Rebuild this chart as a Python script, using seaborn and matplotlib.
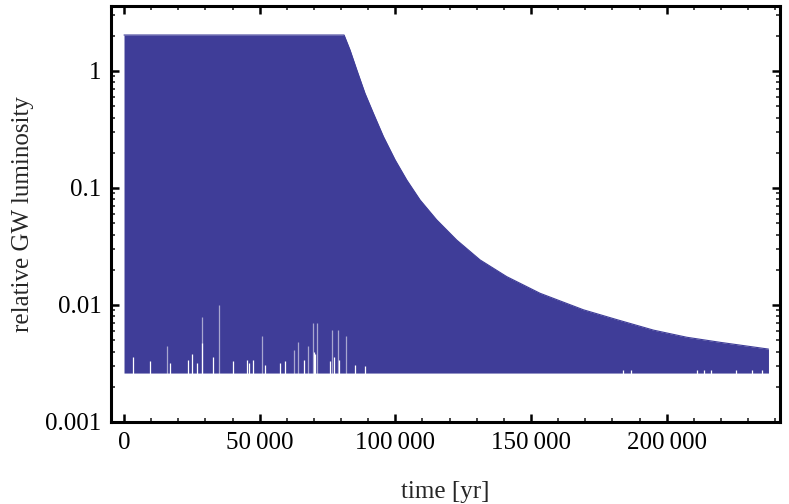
import numpy as np
import pandas as pd
import matplotlib
matplotlib.use("Agg")
import matplotlib.pyplot as plt
import matplotlib.ticker as mticker
import seaborn as sns

# envelope of the rapidly oscillating GW luminosity
env_time = [0, 81100, 83300, 85800, 88800, 91900, 95600, 99900, 104200, 109100,
            115200, 122600, 131200, 141000, 153300, 169300, 181600, 195100,
            207400, 219600, 237500]
env_upper = [2.03, 2.03, 1.51, 1.02, 0.645, 0.435, 0.275, 0.174, 0.117, 0.079,
             0.0535, 0.0359, 0.0243, 0.0175, 0.0126, 0.0091, 0.0075, 0.0061,
             0.0053, 0.0048, 0.0042]
env_lower = [0.00262] * len(env_time)

# gaps in the lower envelope (minima that stay higher)
faint_time = [35130, 28630, 69770, 71010, 76780, 79000, 50970, 64240, 67920,
              15730, 81800, 62650]
faint_top = [0.0100, 0.0079, 0.0070, 0.0070, 0.0061, 0.0061, 0.0054, 0.0048,
             0.0045, 0.0045, 0.0054, 0.0041]
bright_time = [28630, 3200, 24950, 32900, 45200, 47400, 9580, 16950, 23700,
               26800, 40280, 57490, 59330, 66340, 75920, 79350, 85130, 88800,
               69900, 70500, 77300, 46000, 52000, 184000, 186900, 211000,
               213600, 216200, 225400, 231300, 235000]
bright_top = [0.0047, 0.0036, 0.0038, 0.0036, 0.0034, 0.0034, 0.0033, 0.0032,
              0.0034, 0.0032, 0.0033, 0.0032, 0.0033, 0.0034, 0.0033, 0.0034,
              0.0031, 0.0030, 0.0040, 0.0038, 0.0036, 0.0032, 0.0031, 0.0028,
              0.0028, 0.0028, 0.0028, 0.0028, 0.0028, 0.0028, 0.0028]

xticks = [0, 50000, 100000, 150000, 200000]
yticks = [0.001, 0.01, 0.1, 1]
ytick_labels = ["0.001", "0.01", "0.1", "1"]

sns.set_theme(style="ticks")
plt.rcParams["font.family"] = ["Liberation Serif", "DejaVu Serif"]

fig = plt.figure(figsize=(7.89, 5.04), dpi=100)
ax = fig.add_axes([0.1407, 0.1627, 0.9886 - 0.1407, 0.988 - 0.1627])

fill_col = "#3f3d98"
df = pd.DataFrame({"time": env_time, "upper": env_upper, "lower": env_lower})
ax.fill_between(df["time"], df["lower"], df["upper"], color=fill_col, lw=0)
sns.lineplot(data=df, x="time", y="upper", ax=ax, color=fill_col, lw=0.8)

ax.vlines(faint_time, env_lower[0] * 0.97, faint_top, color="white", lw=0.9, alpha=0.55)
ax.vlines(bright_time, env_lower[0] * 0.97, bright_top, color="white", lw=0.9)

ax.set_yscale("log")
ax.set_xlim(-4790, 241750)
ax.set_ylim(0.001, 3.59)

ax.set_xticks(xticks)
ax.xaxis.set_major_formatter(mticker.FuncFormatter(
    lambda v, p: f"{int(v):,}".replace(",", "\u2009")))
ax.xaxis.set_minor_locator(mticker.MultipleLocator(10000))
ax.set_yticks(yticks)
ax.set_yticklabels(ytick_labels)
ax.yaxis.set_minor_locator(mticker.LogLocator(base=10, subs=np.arange(2, 10)))
ax.yaxis.set_minor_formatter(mticker.NullFormatter())

for s in ax.spines.values():
    s.set_visible(True)
    s.set_linewidth(2.2)
    s.set_color("black")

ax.tick_params(which="major", direction="in", length=6, width=1.8,
               top=True, right=True, labelsize=18, pad=7, colors="black")
ax.tick_params(which="minor", direction="in", length=3, width=1.2,
               top=True, right=True)

ax.set_xlabel("time [yr]", fontsize=18, labelpad=20)
ax.set_ylabel("relative GW luminosity", fontsize=18, labelpad=8)
ax.grid(False)

fig.savefig("out.png", dpi=100)
